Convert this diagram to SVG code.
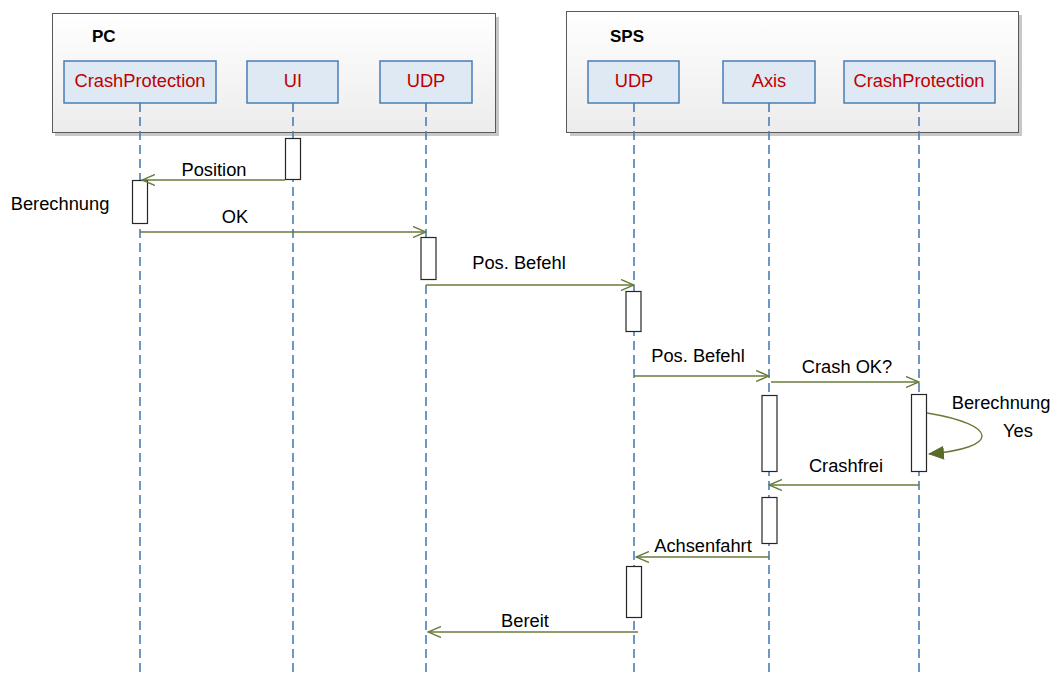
<svg xmlns="http://www.w3.org/2000/svg" width="1058" height="677" viewBox="0 0 1058 677">
  <style>
    .frame { stroke: #595959; stroke-width: 1; fill: url(#frameFill); }
    .shadow { fill: #c8c8c8; }
    .title { font-family: "Liberation Sans", Arial, sans-serif; font-size: 17px; font-weight: bold; fill: #000; }
    .obj { fill: #dfe9f3; stroke: #4a7eb5; stroke-width: 1.5; }
    .objtxt { font-family: "Liberation Sans", Arial, sans-serif; font-size: 18.3px; fill: #c00000; text-anchor: middle; }
    .life { stroke: #4a7eb5; stroke-width: 1.6; stroke-dasharray: 9 5; fill: none; }
    .act { fill: #fff; stroke: #262626; stroke-width: 1.2; }
    .msg { stroke: #687a3a; stroke-width: 1.4; fill: none; }
    .lbl { font-family: "Liberation Sans", Arial, sans-serif; font-size: 18.3px; fill: #000; text-anchor: middle; }
  </style>
  <defs>
    <linearGradient id="frameFill" x1="0" y1="0" x2="0" y2="1">
      <stop offset="0" stop-color="#ffffff"/>
      <stop offset="1" stop-color="#ececec"/>
    </linearGradient>
    <marker id="open" viewBox="0 0 14 12" refX="13" refY="6" markerWidth="14" markerHeight="12" markerUnits="userSpaceOnUse" orient="auto">
      <path d="M0,0.5 L13,6 L0,11.5" fill="none" stroke="#687a3a" stroke-width="1.4"/>
    </marker>
    <marker id="solid" viewBox="0 0 16 14" refX="15" refY="7" markerWidth="16" markerHeight="14" markerUnits="userSpaceOnUse" orient="auto">
      <path d="M0,0 L16,7 L0,14 Z" fill="#5a6b2a"/>
    </marker>
  </defs>

  <rect width="1058" height="677" fill="#fff"/>

  <!-- system frames -->
  <g id="frame-pc">
    <rect class="shadow" x="55" y="17" width="444" height="119"/>
    <rect class="frame" x="52.5" y="13.5" width="443" height="119"/>
    <text class="title" x="92" y="42">PC</text>
  </g>
  <g id="frame-sps">
    <rect class="shadow" x="570" y="15" width="452" height="121"/>
    <rect class="frame" x="566.5" y="11.5" width="452" height="121"/>
    <text class="title" x="610" y="42">SPS</text>
  </g>

  <!-- lifelines -->
  <g id="lifelines">
    <line class="life" x1="140" y1="103" x2="140" y2="677"/>
    <line class="life" x1="293" y1="103" x2="293" y2="677"/>
    <line class="life" x1="426" y1="103" x2="426" y2="677"/>
    <line class="life" x1="634" y1="103" x2="634" y2="677"/>
    <line class="life" x1="769" y1="103" x2="769" y2="677"/>
    <line class="life" x1="919" y1="103" x2="919" y2="677"/>
  </g>

  <!-- participants -->
  <g id="pc-crashprotection">
    <rect class="obj" x="64" y="61" width="152" height="42"/>
    <text class="objtxt" x="140" y="87">CrashProtection</text>
  </g>
  <g id="pc-ui">
    <rect class="obj" x="247" y="61" width="91" height="42"/>
    <text class="objtxt" x="293" y="87">UI</text>
  </g>
  <g id="pc-udp">
    <rect class="obj" x="380" y="61" width="92" height="42"/>
    <text class="objtxt" x="426" y="87">UDP</text>
  </g>
  <g id="sps-udp">
    <rect class="obj" x="588" y="61" width="91" height="42"/>
    <text class="objtxt" x="634" y="87">UDP</text>
  </g>
  <g id="sps-axis">
    <rect class="obj" x="723" y="61" width="92" height="42"/>
    <text class="objtxt" x="769" y="87">Axis</text>
  </g>
  <g id="sps-crashprotection">
    <rect class="obj" x="844" y="61" width="151" height="42"/>
    <text class="objtxt" x="919" y="87">CrashProtection</text>
  </g>

  <!-- activations -->
  <g id="activations">
    <rect class="act" x="285.5" y="138.5" width="15" height="41"/>
    <rect class="act" x="132.5" y="180.5" width="15" height="43"/>
    <rect class="act" x="421" y="237.5" width="15" height="42"/>
    <rect class="act" x="626" y="291.5" width="15" height="40"/>
    <rect class="act" x="762" y="395.5" width="15" height="76"/>
    <rect class="act" x="911.5" y="394.5" width="15" height="77"/>
    <rect class="act" x="762" y="497.5" width="15" height="46"/>
    <rect class="act" x="626.5" y="566.5" width="15" height="51"/>
  </g>

  <!-- messages -->
  <g id="connectors">
    <line class="msg" x1="285" y1="180" x2="142" y2="180" marker-end="url(#open)"/>
    <line class="msg" x1="140" y1="232" x2="426" y2="232" marker-end="url(#open)"/>
    <line class="msg" x1="426" y1="285" x2="634" y2="285" marker-end="url(#open)"/>
    <line class="msg" x1="634" y1="376" x2="769" y2="376" marker-end="url(#open)"/>
    <line class="msg" x1="771" y1="382" x2="919" y2="382" marker-end="url(#open)"/>
    <path class="msg" d="M927,413 C1000,425 1000,448 929,454" marker-end="url(#solid)"/>
    <line class="msg" x1="919" y1="485" x2="769" y2="485" marker-end="url(#open)"/>
    <line class="msg" x1="769" y1="557" x2="636" y2="557" marker-end="url(#open)"/>
    <line class="msg" x1="638" y1="632" x2="428" y2="632" marker-end="url(#open)"/>
  </g>

  <!-- message labels -->
  <g id="labels">
    <text class="lbl" x="214" y="176">Position</text>
    <text class="lbl" x="60" y="210">Berechnung</text>
    <text class="lbl" x="235" y="223">OK</text>
    <text class="lbl" x="519" y="269">Pos. Befehl</text>
    <text class="lbl" x="698" y="362">Pos. Befehl</text>
    <text class="lbl" x="847" y="373">Crash OK?</text>
    <text class="lbl" x="1001" y="409">Berechnung</text>
    <text class="lbl" x="1018" y="437">Yes</text>
    <text class="lbl" x="846" y="472">Crashfrei</text>
    <text class="lbl" x="703" y="552">Achsenfahrt</text>
    <text class="lbl" x="525" y="627">Bereit</text>
  </g>
</svg>
